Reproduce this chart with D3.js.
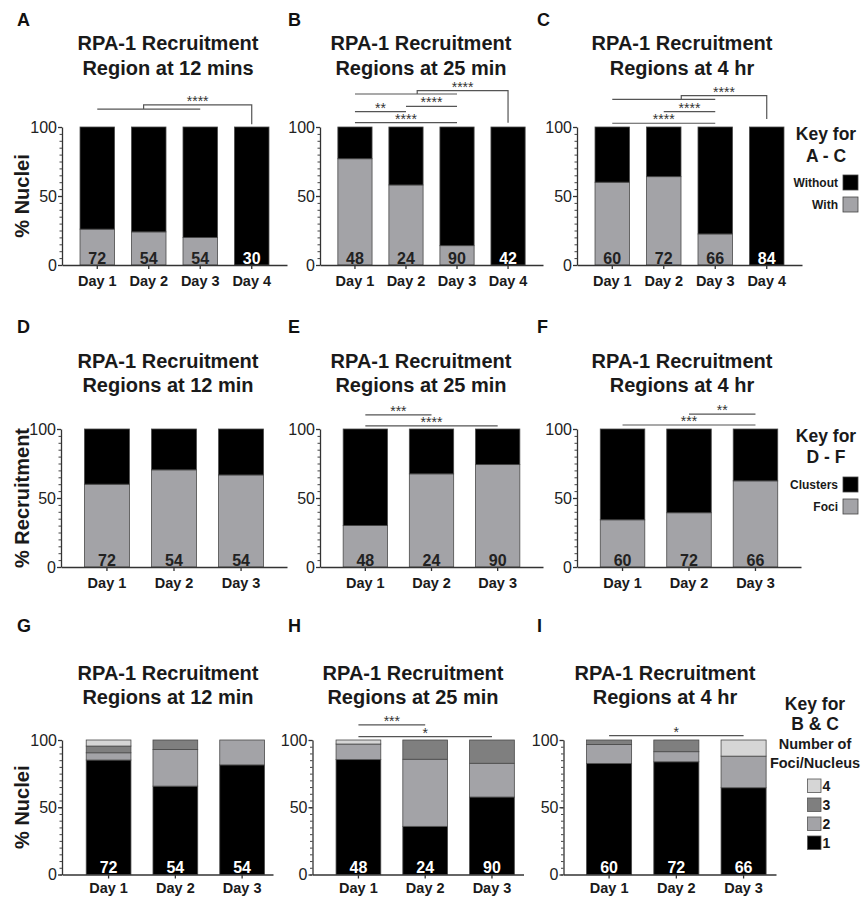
<!DOCTYPE html>
<html>
<head>
<meta charset="utf-8">
<script src="https://cdn.jsdelivr.net/npm/d3@7"></script>
<style>
  body { margin: 0; background: #fff; }
  svg { font-family: "Liberation Sans", Arial, sans-serif; }
</style>
</head>
<body>
<svg id="fig" width="863" height="897"></svg>
<script>
const days4 = ["Day 1", "Day 2", "Day 3", "Day 4"];
const days3 = ["Day 1", "Day 2", "Day 3"];

// A-C: % nuclei WITH RPA-1 recruitment (rest is "Without")
const withA = [26, 24, 20, 0];
const withB = [77, 58, 14, 0];
const withC = [60, 64, 22.5, 0];
const nA = [72, 54, 54, 30];
const nB = [48, 24, 90, 42];
const nC = [60, 72, 66, 84];

// D-F: % recruitment as foci (rest is "Clusters")
const fociD = [60, 70.4, 66.7];
const fociE = [30, 67.5, 74.2];
const fociF = [34.2, 39.3, 62.4];
const nDG = [72, 54, 54];
const nEH = [48, 24, 90];
const nFI = [60, 72, 66];

// G-I: number of foci per nucleus (1,2,3,4)
const oneG = [85.1, 65.7, 81.5], twoG = [5.4, 27.3, 18.5], threeG = [5.0, 7.0, 0], fourG = [4.5, 0, 0];
const oneH = [85.4, 35.8, 57.6], twoH = [11.6, 49.9, 25.1], threeH = [0, 14.3, 17.3], fourH = [3.0, 0, 0];
const oneI = [82.6, 83.8, 64.5], twoI = [14.1, 7.5, 23.5], threeI = [3.3, 8.7, 0], fourI = [0, 0, 12.0];

// significance comparisons (heights in % units)
const sigA = [{ grp: [0, 2], to: 3, y: 113, top: 116, end: 102, split: 0.45, s: "****" }];
const sigB = [
  { a: 0, b: 2, y: 103.1, s: "****" },
  { a: 0, b: 1, y: 111.1, s: "**" },
  { a: 1, b: 2, y: 115, s: "****" },
  { grp: [0, 2], to: 3, y: 123.9, top: 126.3, end: 103.1, split: 0.61, s: "****" }
];
const sigC = [
  { a: 0, b: 2, y: 102.7, s: "****" },
  { a: 1, b: 2, y: 111.1, s: "****" },
  { grp: [0, 2], to: 3, y: 120, top: 122.7, end: 105.8, split: 0.67, s: "****" }
];
const sigE = [
  { a: 0, b: 1, y: 110.3, s: "***" },
  { a: 0, b: 2, y: 102.2, s: "****" }
];
const sigF = [
  { a: 0, b: 2, y: 102.9, s: "***" },
  { a: 1, b: 2, y: 110.8, s: "**" }
];
const sigH = [
  { a: 0, b: 1, y: 111.2, s: "***" },
  { a: 0, b: 2, y: 102.5, s: "*" }
];
const sigI = [{ a: 0, b: 2, y: 103.2, s: "*" }];

const GRAY = "#a3a3a7";
const colors2 = { with: GRAY, without: "#000" };
const colors4 = { one: "#000", two: GRAY, three: "#7f7f7f", four: "#d6d6d6" };

const svg = d3.select("#fig");

const rows = [
  { y0: 265, y1: 127, t1: 50, t2: 75, letter: 26, pad: 7 },
  { y0: 567, y1: 429, t1: 368, t2: 392, letter: 333, pad: 6.5 },
  { y0: 874.5, y1: 740, t1: 680, t2: 704, letter: 632, pad: 4 }
];

function twoPart(values) {
  return values.map((v) => ({ with: v, without: 100 - v }));
}
function fourPart(one, two, three, four) {
  return one.map((v, i) => ({ one: v, two: two[i], three: three[i], four: four[i] }));
}

const panels = [
  { letter: "A", lx: 17, row: 0, ax: 62, aend: 287, outer: 0.35, align: 0.5, tx: 168,
    title: ["RPA-1 Recruitment", "Region at 12 mins"], ylab: "% Nuclei",
    days: days4, data: twoPart(withA), keys: ["with", "without"], colors: colors2, n: nA, sig: sigA },
  { letter: "B", lx: 288, row: 0, ax: 320, aend: 543, outer: 0.35, align: 0.5, tx: 421,
    title: ["RPA-1 Recruitment", "Regions at 25 min"],
    days: days4, data: twoPart(withB), keys: ["with", "without"], colors: colors2, n: nB, sig: sigB },
  { letter: "C", lx: 537, row: 0, ax: 577, aend: 802, outer: 0.35, align: 0.5, tx: 682,
    title: ["RPA-1 Recruitment", "Regions at 4 hr"],
    days: days4, data: twoPart(withC), keys: ["with", "without"], colors: colors2, n: nC, sig: sigC },
  { letter: "D", lx: 17, row: 1, ax: 61, aend: 287, outer: 0.35, align: 0.5, tx: 168,
    title: ["RPA-1 Recruitment", "Regions at 12 min"], ylab: "% Recruitment",
    days: days3, data: twoPart(fociD), keys: ["with", "without"], colors: colors2, n: nDG, sig: [] },
  { letter: "E", lx: 288, row: 1, ax: 320, aend: 543, outer: 0.35, align: 0.5, tx: 421,
    title: ["RPA-1 Recruitment", "Regions at 25 min"],
    days: days3, data: twoPart(fociE), keys: ["with", "without"], colors: colors2, n: nEH, sig: sigE },
  { letter: "F", lx: 537, row: 1, ax: 577, aend: 801, outer: 0.35, align: 0.5, tx: 682,
    title: ["RPA-1 Recruitment", "Regions at 4 hr"],
    days: days3, data: twoPart(fociF), keys: ["with", "without"], colors: colors2, n: nFI, sig: sigF },
  { letter: "G", lx: 17, row: 2, ax: 62, aend: 273, outer: 0.245, align: 0.74, tx: 168,
    title: ["RPA-1 Recruitment", "Regions at 12 min"], ylab: "% Nuclei",
    days: days3, data: fourPart(oneG, twoG, threeG, fourG), keys: ["one", "two", "three", "four"], colors: colors4, n: nDG, sig: [] },
  { letter: "H", lx: 288, row: 2, ax: 312.5, aend: 523.5, outer: 0.245, align: 0.72, tx: 413,
    title: ["RPA-1 Recruitment", "Regions at 25 min"],
    days: days3, data: fourPart(oneH, twoH, threeH, fourH), keys: ["one", "two", "three", "four"], colors: colors4, n: nEH, sig: sigH },
  { letter: "I", lx: 537, row: 2, ax: 563.5, aend: 776, outer: 0.245, align: 0.7, tx: 665,
    title: ["RPA-1 Recruitment", "Regions at 4 hr"],
    days: days3, data: fourPart(oneI, twoI, threeI, fourI), keys: ["one", "two", "three", "four"], colors: colors4, n: nFI, sig: sigI }
];

function drawPanel(p) {
  const r = rows[p.row];
  const g = svg.append("g");

  const x = d3.scaleBand().domain(p.days).range([p.ax, p.aend])
    .paddingInner(0.33).paddingOuter(p.outer).align(p.align);
  const y = d3.scaleLinear().domain([0, 100]).range([r.y0, r.y1]);
  const cx = (i) => x(p.days[i]) + x.bandwidth() / 2;

  // panel letter and title
  g.append("text").attr("x", p.lx).attr("y", r.letter)
    .attr("font-size", 18).attr("font-weight", "bold").attr("fill", "#111").text(p.letter);
  g.append("text").attr("x", p.tx).attr("y", r.t1).attr("text-anchor", "middle")
    .attr("font-size", 20).attr("font-weight", "bold").attr("fill", "#1a1a1a").text(p.title[0]);
  g.append("text").attr("x", p.tx).attr("y", r.t2).attr("text-anchor", "middle")
    .attr("font-size", 20).attr("font-weight", "bold").attr("fill", "#1a1a1a").text(p.title[1]);

  if (p.ylab) {
    g.append("text")
      .attr("transform", `translate(29,${(r.y0 + r.y1) / 2}) rotate(-90)`)
      .attr("text-anchor", "middle").attr("font-size", 20).attr("font-weight", "bold")
      .attr("fill", "#1a1a1a").text(p.ylab);
  }

  // stacked bars
  const series = d3.stack().keys(p.keys)(p.data);
  g.selectAll("g.layer").data(series).join("g")
    .attr("fill", (s) => p.colors[s.key])
    .selectAll("rect").data((s) => s).join("rect")
    .attr("x", (d, i) => x(p.days[i]))
    .attr("width", x.bandwidth())
    .attr("y", (d) => y(d[1]))
    .attr("height", (d) => y(d[0]) - y(d[1]))
    .attr("stroke", "#4a4a4a").attr("stroke-width", 0.8);

  // axes
  const yMinor = g.append("g").attr("transform", `translate(${p.ax},0)`)
    .call(d3.axisLeft(y).tickValues(d3.range(0, 101, 5)).tickSize(2.5).tickSizeOuter(0).tickFormat(""));
  yMinor.select(".domain").remove();
  yMinor.selectAll("line").attr("stroke", "#444");

  const yAxis = g.append("g").attr("transform", `translate(${p.ax},0)`)
    .call(d3.axisLeft(y).tickValues([0, 50, 100]).tickSize(4).tickSizeOuter(0).tickPadding(1));
  yAxis.selectAll("text").attr("font-size", 16).attr("fill", "#222").attr("font-family", null);
  yAxis.selectAll("line, .domain").attr("stroke", "#333").attr("stroke-width", 1.3);

  const xAxis = g.append("g").attr("transform", `translate(0,${r.y0})`)
    .call(d3.axisBottom(x).tickSize(4).tickSizeOuter(0).tickPadding(r.pad));
  xAxis.selectAll("text").attr("font-size", 14.5).attr("font-weight", "bold")
    .attr("fill", "#1a1a1a").attr("font-family", null);
  xAxis.selectAll("line, .domain").attr("stroke", "#333").attr("stroke-width", 1.3);

  // n labels inside bars
  g.selectAll("text.n").data(p.n).join("text").attr("class", "n")
    .attr("x", (d, i) => cx(i)).attr("y", r.y0 - 1.5)
    .attr("text-anchor", "middle").attr("font-size", 16).attr("font-weight", "bold")
    .attr("fill", (d, i) => (p.colors[p.keys[0]] === "#000" || p.data[i][p.keys[0]] === 0 ? "#fff" : "#222"))
    .text((d) => d);

  // significance bars
  const sg = g.append("g").attr("fill", "none").attr("stroke", "#555").attr("stroke-width", 1.2);
  p.sig.forEach((s) => {
    if (s.grp) {
      const xa = cx(s.grp[0]), xb = cx(s.grp[1]);
      const xs = xa + (xb - xa) * s.split, xt = cx(s.to);
      sg.append("line").attr("x1", xa).attr("x2", xb).attr("y1", y(s.y)).attr("y2", y(s.y));
      sg.append("path").attr("d", `M${xs},${y(s.y)}V${y(s.top)}H${xt}V${y(s.end)}`);
      g.append("text").attr("x", (xs + xt) / 2).attr("y", y(s.top) + 1)
        .attr("text-anchor", "middle").attr("font-size", 14).attr("fill", "#333").text(s.s);
    } else {
      const xa = cx(s.a), xb = cx(s.b);
      sg.append("line").attr("x1", xa).attr("x2", xb).attr("y1", y(s.y)).attr("y2", y(s.y));
      g.append("text").attr("x", (xa + xb) / 2).attr("y", y(s.y) + 1)
        .attr("text-anchor", "middle").attr("font-size", 14).attr("fill", "#333").text(s.s);
    }
  });
}

panels.forEach(drawPanel);

// keys
function keyTitle(cx, y1, y2, line2) {
  svg.append("text").attr("x", cx).attr("y", y1).attr("text-anchor", "middle")
    .attr("font-size", 17.5).attr("font-weight", "bold").attr("fill", "#1a1a1a").text("Key for");
  svg.append("text").attr("x", cx).attr("y", y2).attr("text-anchor", "middle")
    .attr("font-size", 17.5).attr("font-weight", "bold").attr("fill", "#1a1a1a").text(line2);
}
function keyItems(items, yTop) {
  items.forEach((it, i) => {
    const yy = yTop + i * 22;
    svg.append("rect").attr("x", 843).attr("y", yy).attr("width", 15).attr("height", 15)
      .attr("fill", it.color).attr("stroke", "#444").attr("stroke-width", 0.8);
    svg.append("text").attr("x", 838).attr("y", yy + 12).attr("text-anchor", "end")
      .attr("font-size", 12).attr("font-weight", "bold").attr("fill", "#1a1a1a").text(it.label);
  });
}
keyTitle(826, 140, 162, "A - C");
keyItems([{ label: "Without", color: "#000" }, { label: "With", color: GRAY }], 175);
keyTitle(826, 442, 463, "D - F");
keyItems([{ label: "Clusters", color: "#000" }, { label: "Foci", color: GRAY }], 477);

keyTitle(815, 710, 730, "B & C");
svg.append("text").attr("x", 815).attr("y", 749).attr("text-anchor", "middle")
  .attr("font-size", 14.5).attr("font-weight", "bold").attr("fill", "#1a1a1a").text("Number of");
svg.append("text").attr("x", 815).attr("y", 767.5).attr("text-anchor", "middle")
  .attr("font-size", 14.5).attr("font-weight", "bold").attr("fill", "#1a1a1a").text("Foci/Nucleus");
const fociKeys = [
  { label: "4", color: colors4.four },
  { label: "3", color: colors4.three },
  { label: "2", color: colors4.two },
  { label: "1", color: colors4.one }
];
fociKeys.forEach((it, i) => {
  const yy = 779 + i * 19;
  svg.append("rect").attr("x", 807.5).attr("y", yy).attr("width", 13.5).attr("height", 13.5)
    .attr("fill", it.color).attr("stroke", "#555").attr("stroke-width", 0.8);
  svg.append("text").attr("x", 822.5).attr("y", yy + 12).attr("font-size", 14)
    .attr("font-weight", "bold").attr("fill", "#1a1a1a").text(it.label);
});
</script>
</body>
</html>
